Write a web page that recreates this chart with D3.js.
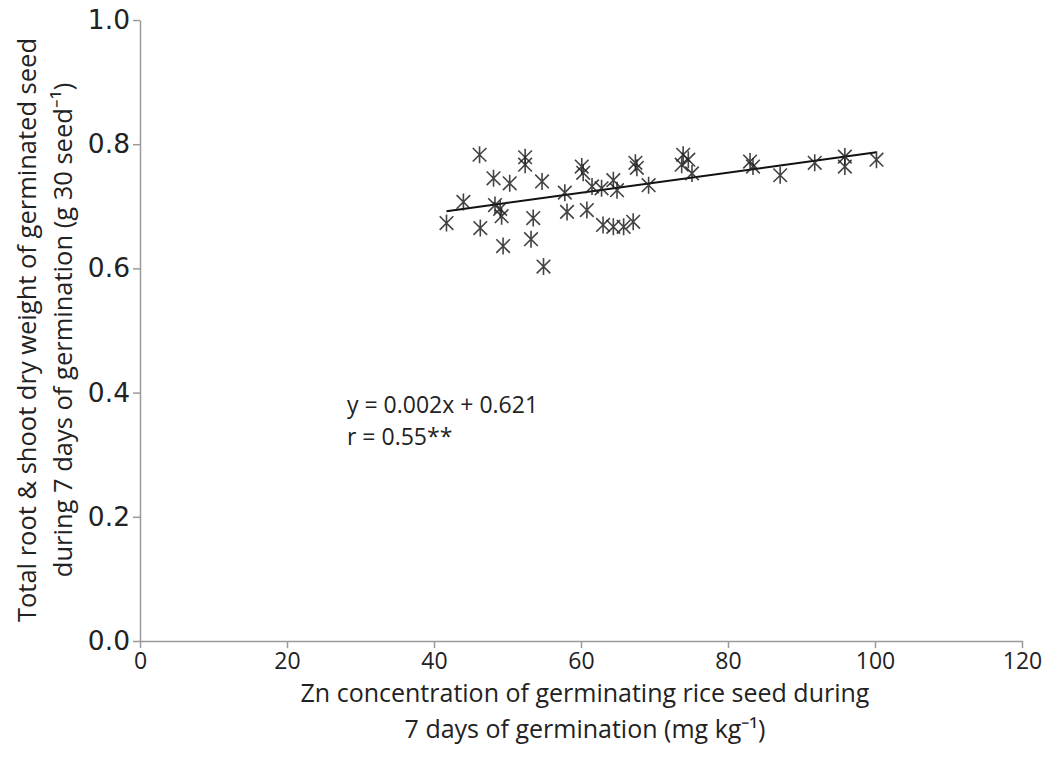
<!DOCTYPE html>
<html><head><meta charset="utf-8">
<script src="https://cdn.jsdelivr.net/npm/d3@7"></script>
<style>body{margin:0;background:#fff}</style>
</head><body>
<svg id="chart" width="1050" height="760"></svg>
<script>
const xVals = [41.7, 44.0, 46.2, 46.3, 48.1, 48.3, 49.0, 49.2, 49.4, 50.3, 52.4, 52.4, 53.5, 53.2, 54.7, 54.9,
  57.8, 58.1, 60.1, 60.3, 60.8, 61.5, 62.8, 63.0, 64.4, 64.9, 64.4, 65.8, 67.1, 67.4, 67.6, 69.2,
  73.9, 74.6, 73.7, 75.1, 83.0, 83.4, 87.1, 91.8, 95.9, 95.9, 100.2];
const yVals = [0.673, 0.707, 0.783, 0.665, 0.745, 0.702, 0.696, 0.684, 0.636, 0.737, 0.779, 0.767, 0.681, 0.647, 0.740, 0.603,
  0.722, 0.691, 0.764, 0.754, 0.694, 0.732, 0.729, 0.670, 0.742, 0.726, 0.667, 0.667, 0.675, 0.770, 0.762, 0.734,
  0.783, 0.775, 0.767, 0.753, 0.772, 0.764, 0.750, 0.770, 0.780, 0.764, 0.775];
const trendX = [41.7, 100.2];
const trendY = [0.692, 0.787];
const xTicks = [0, 20, 40, 60, 80, 100, 120];
const yTicks = [0.0, 0.2, 0.4, 0.6, 0.8, 1.0];
const equationLines = ["y = 0.002x + 0.621", "r = 0.55**"];
const xTitle = ["Zn concentration of germinating rice seed during", "7 days of germination (mg kg\u207B\u00B9)"];
const yTitle = ["Total root & shoot dry weight of germinated seed", "during 7 days of germination (g 30 seed\u207B\u00B9)"];

const svg = d3.select("#chart");
const x = d3.scaleLinear().domain([0, 120]).range([140, 1022]);
const y = d3.scaleLinear().domain([0, 1]).range([641, 20]);
const axisColor = "#9a9a9a";

const xAxis = svg.append("g").attr("transform", "translate(0,641)")
  .call(d3.axisBottom(x).tickValues(xTicks).tickSize(7).tickSizeOuter(0).tickFormat(d3.format("d")));
xAxis.selectAll("text").attr("font-family", "'Open Sans', sans-serif")
  .attr("font-size", 23).attr("fill", "#222").attr("y", 12).attr("dy", "0.71em");
const yAxis = svg.append("g").attr("transform", "translate(140,0)")
  .call(d3.axisLeft(y).tickValues(yTicks).tickSize(7).tickSizeOuter(0).tickFormat(d3.format(".1f")));
yAxis.selectAll("text").attr("font-family", "'DejaVu Sans', sans-serif")
  .attr("font-size", 26.5).attr("fill", "#222").attr("x", -10);
svg.selectAll(".domain, .tick line").attr("stroke", axisColor).attr("stroke-width", 1.5);

// trend line
svg.append("line")
  .attr("x1", x(trendX[0])).attr("y1", y(trendY[0]))
  .attr("x2", x(trendX[1])).attr("y2", y(trendY[1]))
  .attr("stroke", "#111").attr("stroke-width", 2);

// asterisk markers
const r = 8.5;
const starPath = `M${-r*0.8},${-r*0.8}L${r*0.8},${r*0.8}M${-r*0.8},${r*0.8}L${r*0.8},${-r*0.8}M0,${-r}L0,${r}`;
svg.append("g").selectAll("path").data(xVals.map((v, i) => [v, yVals[i]])).join("path")
  .attr("transform", d => `translate(${x(d[0])},${y(d[1])})`)
  .attr("d", starPath).attr("stroke", "#222").attr("stroke-opacity", 0.85)
  .attr("stroke-width", 1.6).attr("fill", "none");

// equation
svg.append("g").selectAll("text").data(equationLines).join("text")
  .attr("x", 347).attr("y", (d, i) => 413 + i * 32)
  .attr("font-family", "'Open Sans', sans-serif").attr("font-size", 23).attr("fill", "#222")
  .text(d => d);

// x title
svg.append("g").selectAll("text").data(xTitle).join("text")
  .attr("x", 585).attr("y", (d, i) => 702 + i * 36).attr("text-anchor", "middle")
  .attr("font-family", "'Open Sans', sans-serif").attr("font-size", 25).attr("fill", "#222")
  .text(d => d);

// y title
svg.append("g").selectAll("text").data(yTitle).join("text")
  .attr("transform", (d, i) => `translate(${36 + i * 36},330) rotate(-90)`)
  .attr("text-anchor", "middle")
  .attr("font-family", "'Open Sans', sans-serif").attr("font-size", 25.5).attr("fill", "#222")
  .text(d => d);
</script>
</body></html>
